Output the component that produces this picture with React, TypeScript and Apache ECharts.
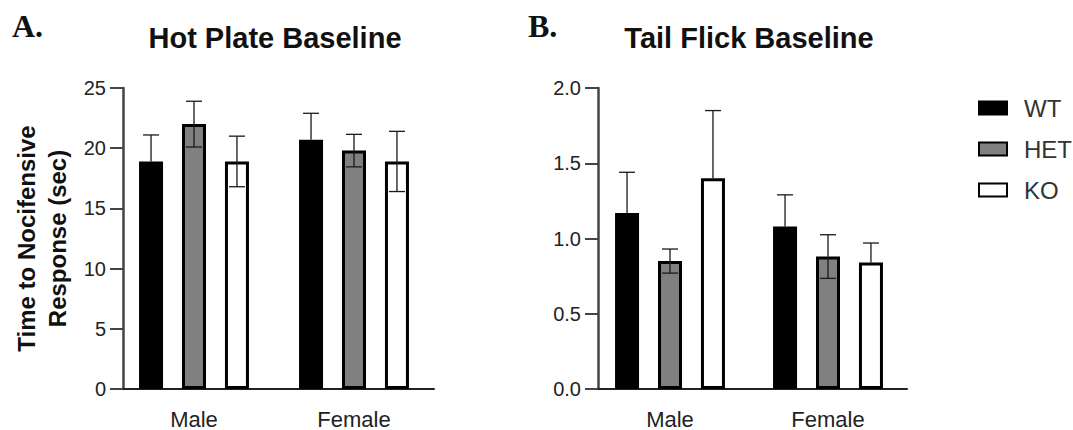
import React, { useEffect, useRef } from "react";
import * as echarts from "echarts";

// ---- data ----
const categories = ["Male", "Female"];
const groups = ["WT", "HET", "KO"];

const hotWT = [18.9, 20.7];
const hotHET = [22.0, 19.8];
const hotKO = [18.9, 18.9];
const hotWTSem = [2.2, 2.2];
const hotHETSem = [1.9, 1.35];
const hotKOSem = [2.1, 2.5];
// which error-bar directions are visible: true = both, false = upper only
const hotBoth = [false, true, true];

const tailWT = [1.17, 1.08];
const tailHET = [0.85, 0.88];
const tailKO = [1.4, 0.84];
const tailWTSem = [0.27, 0.21];
const tailHETSem = [0.08, 0.145];
const tailKOSem = [0.45, 0.13];
const tailBoth = [false, true, false];

const titles = ["Hot Plate Baseline", "Tail Flick Baseline"];
const panelLabels = ["A.", "B."];
const yName = "Time to Nocifensive\nResponse (sec)";

// ---- style ----
const SANS = '"Liberation Sans", Arial, sans-serif';
const SERIF = '"Liberation Serif", "Times New Roman", serif';
const BAR_W = 24;
const BAR_GAP = 0.79;
const SPACING = BAR_W * (1 + BAR_GAP);
const CAP = 16;
const fills = ["#000000", "#808080", "#ffffff"];

function barSeries(name: string, k: number, values: number[], axis: number) {
  return {
    type: "bar",
    name,
    xAxisIndex: axis,
    yAxisIndex: axis,
    data: values,
    barWidth: BAR_W,
    barGap: `${BAR_GAP * 100}%`,
    itemStyle: { color: fills[k], borderColor: "#000", borderWidth: 3 },
    z: 2,
  };
}

function errSeries(name: string, k: number, means: number[], sems: number[], axis: number, both: boolean) {
  return {
    type: "custom",
    name: name + " SEM",
    xAxisIndex: axis,
    yAxisIndex: axis,
    z: 5,
    silent: true,
    encode: { x: 0, y: 1 },
    data: means.map((m, i) => [i, m, sems[i]]),
    renderItem: (params: any, api: any) => {
      const ci = api.value(0);
      const m = api.value(1);
      const s = api.value(2);
      const base = api.coord([ci, m]);
      const hi = api.coord([ci, m + s]);
      const lo = api.coord([ci, m - s]);
      const x = base[0] + (k - 1) * SPACING;
      const h = CAP / 2;
      const style = { stroke: "#1a1a1a", lineWidth: 1.3 };
      const children: any[] = [
        { type: "line", shape: { x1: x, y1: hi[1], x2: x, y2: base[1] }, style },
        { type: "line", shape: { x1: x - h, y1: hi[1], x2: x + h, y2: hi[1] }, style },
      ];
      if (both) {
        children.push({ type: "line", shape: { x1: x, y1: base[1], x2: x, y2: lo[1] }, style });
        children.push({ type: "line", shape: { x1: x - h, y1: lo[1], x2: x + h, y2: lo[1] }, style });
      }
      return { type: "group", children };
    },
  };
}

function xAxis(gridIndex: number) {
  return {
    type: "category",
    gridIndex,
    data: categories,
    axisLine: { lineStyle: { color: "#222", width: 2 } },
    axisTick: { alignWithLabel: true, length: 11, lineStyle: { color: "#222", width: 2 } },
    axisLabel: { color: "#222", fontSize: 22, fontFamily: SANS, margin: 19 },
    splitLine: { show: false },
  };
}

function yAxis(gridIndex: number, max: number, interval: number, offset: number, decimals: number, name?: string) {
  return {
    type: "value",
    gridIndex,
    min: 0,
    max,
    interval,
    offset,
    name,
    nameLocation: "middle",
    nameRotate: 90,
    nameGap: 50,
    nameTextStyle: { fontSize: 24, fontWeight: "bold", lineHeight: 31, color: "#111", fontFamily: SANS },
    axisLine: { show: true, lineStyle: { color: "#444", width: 2.5 } },
    axisTick: { show: true, length: 13, lineStyle: { color: "#444", width: 2 } },
    axisLabel: {
      color: "#222",
      fontSize: 20,
      fontFamily: SANS,
      margin: 17,
      formatter: (v: number) => v.toFixed(decimals),
    },
    splitLine: { show: false },
  };
}

export default function App() {
  const ref = useRef<HTMLDivElement>(null);
  useEffect(() => {
    if (!ref.current) return;
    const chart = echarts.init(ref.current, undefined, { renderer: "svg" });
    const hotMeans = [hotWT, hotHET, hotKO];
    const hotSems = [hotWTSem, hotHETSem, hotKOSem];
    const tailMeans = [tailWT, tailHET, tailKO];
    const tailSems = [tailWTSem, tailHETSem, tailKOSem];
    const series: any[] = [];
    groups.forEach((g, k) => series.push(barSeries(g, k, hotMeans[k], 0)));
    groups.forEach((g, k) => series.push(barSeries(g, k, tailMeans[k], 1)));
    groups.forEach((g, k) => series.push(errSeries(g, k, hotMeans[k], hotSems[k], 0, hotBoth[k])));
    groups.forEach((g, k) => series.push(errSeries(g, k, tailMeans[k], tailSems[k], 1, tailBoth[k])));

    chart.setOption({
      animation: false,
      backgroundColor: "#ffffff",
      grid: [
        { left: 114, top: 88, width: 320, height: 305 },
        { left: 591, top: 88, width: 316, height: 305 },
      ],
      xAxis: [xAxis(0), xAxis(1)],
      yAxis: [yAxis(0, 25, 5, -9, 0, yName), yAxis(1, 2, 0.5, -7, 1)],
      legend: {
        orient: "vertical",
        left: 973,
        top: 91,
        data: groups,
        icon: "rect",
        itemWidth: 28,
        itemHeight: 13,
        itemGap: 17,
        selectedMode: false,
        textStyle: { fontSize: 24, color: "#333", fontFamily: SANS, lineHeight: 24, padding: [0, 0, 0, 12] },
      },
      graphic: [
        { type: "text", x: 12, y: 42, style: { text: panelLabels[0], font: `bold 32px ${SERIF}`, fill: "#111", textAlign: "left", textVerticalAlign: "bottom" } },
        { type: "text", x: 528, y: 42, style: { text: panelLabels[1], font: `bold 32px ${SERIF}`, fill: "#111", textAlign: "left", textVerticalAlign: "bottom" } },
        { type: "text", x: 275, y: 38, style: { text: titles[0], font: `bold 29px ${SANS}`, fill: "#111", textAlign: "center", textVerticalAlign: "middle" } },
        { type: "text", x: 749, y: 38, style: { text: titles[1], font: `bold 29px ${SANS}`, fill: "#111", textAlign: "center", textVerticalAlign: "middle" } },
      ],
      series,
    });
    return () => chart.dispose();
  }, []);
  return <div ref={ref} style={{ position: "fixed", left: 0, top: 0, width: 1073, height: 430 }} />;
}
